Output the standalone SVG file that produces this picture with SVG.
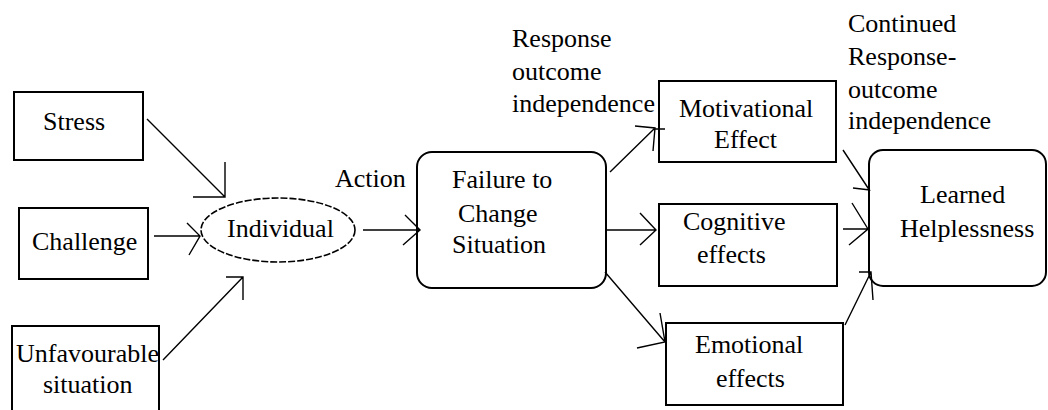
<svg xmlns="http://www.w3.org/2000/svg" width="1048" height="410" viewBox="0 0 1048 410" font-family="'Liberation Serif', Tinos, 'DejaVu Serif', serif">
<style>
.box{fill:#fff;stroke:#000;stroke-width:2}
.ell{fill:#fff;stroke:#000;stroke-width:1.6;stroke-dasharray:7 2}
.ln{fill:none;stroke:#000;stroke-width:1.4}
.t{font-family:'Liberation Serif', Tinos, 'DejaVu Serif', serif;font-size:26px;fill:#000}
</style>
<rect width="1048" height="410" fill="#fff"/>
<g id="stress"><rect class="box" x="14" y="92" width="129" height="68"/><text class="t" x="43" y="130">Stress</text></g>
<g id="challenge"><rect class="box" x="19" y="208" width="129" height="71"/><text class="t" x="32" y="250">Challenge</text></g>
<g id="unfavourable"><rect class="box" x="12" y="326" width="147" height="95"/><text class="t" x="16" y="362">Unfavourable</text><text class="t" x="43" y="393">situation</text></g>
<g id="individual"><ellipse class="ell" cx="278" cy="230" rx="77" ry="32"/><text class="t" x="227" y="237">Individual</text></g>
<g id="failure"><rect class="box" x="417" y="152" width="189" height="136" rx="15"/><text class="t" x="452" y="188">Failure to</text><text class="t" x="458" y="222">Change</text><text class="t" x="452" y="253">Situation</text></g>
<g id="motivational"><rect class="box" x="659" y="81" width="177" height="81"/><text class="t" x="679" y="117">Motivational</text><text class="t" x="714" y="148">Effect</text></g>
<g id="cognitive"><rect class="box" x="659" y="204" width="178" height="82"/><text class="t" x="683" y="230">Cognitive</text><text class="t" x="697" y="263">effects</text></g>
<g id="emotional"><rect class="box" x="666" y="323" width="177" height="82"/><text class="t" x="695" y="353">Emotional</text><text class="t" x="716" y="387">effects</text></g>
<g id="learned"><rect class="box" x="869" y="150" width="177" height="136" rx="14"/><text class="t" x="920" y="203">Learned</text><text class="t" x="900" y="237">Helplessness</text></g>
<g id="labels">
<text class="t" x="335" y="187">Action</text>
<text class="t" x="512" y="47">Response</text><text class="t" x="512" y="80">outcome</text><text class="t" x="512" y="112">independence</text>
<text class="t" x="848" y="32">Continued</text><text class="t" x="848" y="65">Response-</text><text class="t" x="848" y="98">outcome</text><text class="t" x="848" y="129">independence</text>
</g>
<g id="connectors">
<path class="ln" d="M147,119 L225,197 M193,197 L225,197 L225,162"/>
<path class="ln" d="M154,236 L200,236 M187,223 L200,236 L189,255"/>
<path class="ln" d="M163,360 L243,277 M226,277 L243,277 L243,300"/>
<path class="ln" d="M363,230 L420,230 M405,215 L420,230 L403,245"/>
<path class="ln" d="M610,172 L655,128 M635,126 L655,128 L653,151 M655,129 L665,129"/>
<path class="ln" d="M606,230 L656,230 M640,213 L656,230 L640,245"/>
<path class="ln" d="M605,272 L665,342 M660,313 L665,342 L637,348"/>
<path class="ln" d="M843,150 L870,191 M853,188 L870,190"/>
<path class="ln" d="M843,229 L868,229 M852,203 L868,229 L849,245"/>
<path class="ln" d="M845,325 L871,272 M859,272 L871,272 L873,300"/>
</g>
</svg>
